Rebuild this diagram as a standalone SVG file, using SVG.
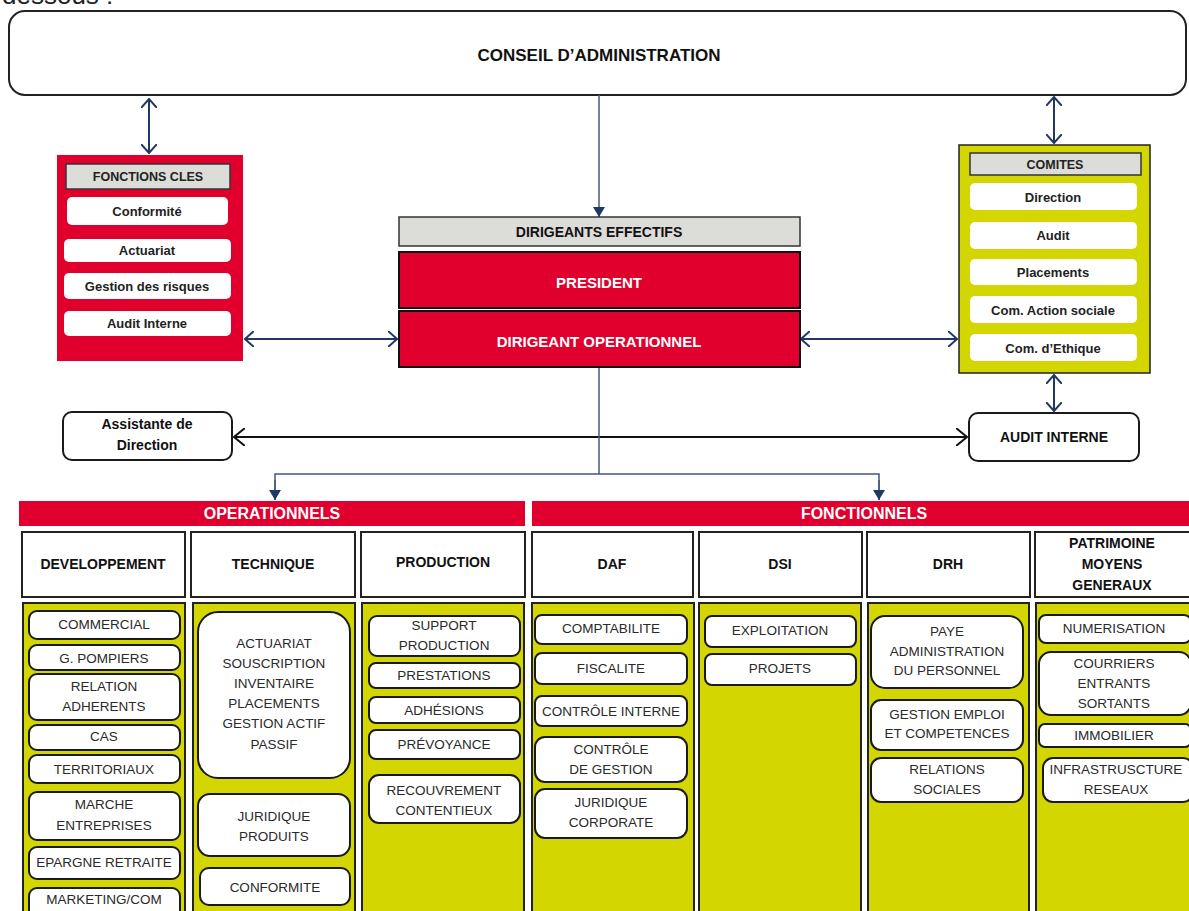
<svg xmlns="http://www.w3.org/2000/svg" width="1189" height="911" viewBox="0 0 1189 911">
<style>
text{font-family:"Liberation Sans",Arial,sans-serif;text-anchor:middle;fill:#222}
.b{font-weight:bold}
.hd{font-weight:bold;font-size:14px;fill:#111}
.fc{font-weight:bold;font-size:13px}
.w{fill:#fff;font-weight:bold;font-size:15px}
.it{font-size:13.5px;fill:#2a2a2a}
.red{fill:#E1002D}
.yel{fill:#D3D600;stroke:#222;stroke-width:2}
.gray{fill:#DCDCD8;stroke:#333;stroke-width:1.5}
.wb{fill:#fff;stroke:none}
.box{fill:#fff;stroke:#1a1a1a;stroke-width:2}
.col{fill:#fff;stroke:#222;stroke-width:2}
.nav{stroke:#1F3864;stroke-width:2;fill:none}
.thin{stroke:#44587E;stroke-width:1.5;fill:none}
</style>
<defs>
<marker id="chev" viewBox="0 0 10 16" refX="9" refY="8" markerWidth="10" markerHeight="16" markerUnits="userSpaceOnUse" orient="auto-start-reverse"><path d="M0,0 L9,8 L0,16" fill="none" stroke="#1F3864" stroke-width="2"/></marker>
<marker id="chevk" viewBox="0 0 12 18" refX="11" refY="9" markerWidth="12" markerHeight="18" markerUnits="userSpaceOnUse" orient="auto-start-reverse"><path d="M0,0 L11,9 L0,18" fill="none" stroke="#111" stroke-width="2"/></marker>
<marker id="tri" viewBox="0 0 10 12" refX="10" refY="6" markerWidth="10" markerHeight="12" markerUnits="userSpaceOnUse" orient="auto"><path d="M0,0 L10,6 L0,12 Z" fill="#1F3864"/></marker>
</defs>

<text x="2" y="4" style="font-size:26px;text-anchor:start;fill:#222">dessous :</text>

<g id="conseil">
<rect x="9" y="11" width="1177" height="84" rx="16" fill="#fff" stroke="#222" stroke-width="2"/>
<text x="599" y="61" class="b" style="font-size:17px;fill:#111">CONSEIL D’ADMINISTRATION</text>
</g>

<g id="connectors">
<line x1="149" y1="99" x2="149" y2="153" class="nav" marker-start="url(#chev)" marker-end="url(#chev)"/>
<line x1="1054" y1="97" x2="1054" y2="143" class="nav" marker-start="url(#chev)" marker-end="url(#chev)"/>
<line x1="599" y1="95" x2="599" y2="217" class="thin" marker-end="url(#tri)"/>
<line x1="245" y1="339" x2="397" y2="339" class="nav" marker-start="url(#chev)" marker-end="url(#chev)"/>
<line x1="801" y1="339" x2="957" y2="339" class="nav" marker-start="url(#chev)" marker-end="url(#chev)"/>
<line x1="1054" y1="375" x2="1054" y2="411" class="nav" marker-start="url(#chev)" marker-end="url(#chev)"/>
<line x1="234" y1="437" x2="967" y2="437" stroke="#111" stroke-width="2" marker-start="url(#chevk)" marker-end="url(#chevk)"/>
<polyline points="599,367 599,474" class="thin"/>
<polyline points="275,500 275,474 879,474 879,500" class="thin"/>
<line x1="275" y1="480" x2="275" y2="500" class="thin" marker-end="url(#tri)"/>
<line x1="879" y1="480" x2="879" y2="500" class="thin" marker-end="url(#tri)"/>
</g>

<g id="fonctions-cles">
<rect x="57" y="155" width="186" height="206" class="red"/>
<rect x="66" y="164" width="164" height="25" class="gray"/>
<text x="148" y="181" class="fc" style="font-size:12.5px">FONCTIONS CLES</text>
<rect x="67" y="197" width="161" height="28" rx="5" class="wb"/>
<text x="147" y="216" class="fc">Conformité</text>
<rect x="64" y="239" width="167" height="23" rx="5" class="wb"/>
<text x="147" y="255" class="fc">Actuariat</text>
<rect x="64" y="273" width="167" height="26" rx="5" class="wb"/>
<text x="147" y="291" class="fc">Gestion des risques</text>
<rect x="64" y="311" width="167" height="25" rx="5" class="wb"/>
<text x="147" y="328" class="fc">Audit Interne</text>
</g>

<g id="dirigeants">
<rect x="399" y="217" width="401" height="29" class="gray"/>
<text x="599" y="237" class="hd">DIRIGEANTS EFFECTIFS</text>
<rect x="399" y="252" width="401" height="56" class="red" stroke="#111" stroke-width="2"/>
<text x="599" y="288" class="w">PRESIDENT</text>
<rect x="399" y="311" width="401" height="56" class="red" stroke="#111" stroke-width="2"/>
<text x="599" y="347" class="w">DIRIGEANT OPERATIONNEL</text>
</g>

<g id="comites">
<rect x="959" y="145" width="191" height="228" class="yel" style="stroke-width:1.5"/>
<rect x="970" y="153" width="171" height="22" class="gray"/>
<text x="1055" y="169" class="fc" style="font-size:12.5px">COMITES</text>
<rect x="970" y="183" width="167" height="27" rx="5" class="wb"/>
<text x="1053" y="202" class="fc">Direction</text>
<rect x="970" y="222" width="167" height="27" rx="5" class="wb"/>
<text x="1053" y="240" class="fc">Audit</text>
<rect x="970" y="259" width="167" height="26" rx="5" class="wb"/>
<text x="1053" y="277" class="fc">Placements</text>
<rect x="970" y="296" width="167" height="27" rx="5" class="wb"/>
<text x="1053" y="315" class="fc">Com. Action  sociale</text>
<rect x="970" y="334" width="167" height="27" rx="5" class="wb"/>
<text x="1053" y="353" class="fc">Com. d’Ethique</text>
</g>

<g id="assistante">
<rect x="63" y="412" width="169" height="48" rx="9" class="box"/>
<text x="147" y="429" class="hd">Assistante de</text>
<text x="147" y="450" class="hd">Direction</text>
</g>

<g id="audit-interne">
<rect x="969" y="413" width="170" height="48" rx="9" class="box"/>
<text x="1054" y="442" class="hd">AUDIT INTERNE</text>
</g>

<g id="operationnels">
<rect x="19" y="501" width="506" height="25" class="red"/>
<text x="272" y="519" class="w" style="font-size:16px">OPERATIONNELS</text>
</g>
<g id="fonctionnels">
<rect x="532" y="501" width="660" height="25" class="red"/>
<text x="864" y="519" class="w" style="font-size:16px">FONCTIONNELS</text>
</g>

<g id="developpement">
<rect x="22" y="532" width="163" height="65" class="col"/>
<text x="103" y="569" class="hd">DEVELOPPEMENT</text>
<rect x="23" y="603" width="162" height="312" class="yel"/>
<rect x="29" y="611" width="151" height="28" rx="8" class="box"/><text x="104" y="629" class="it">COMMERCIAL</text>
<rect x="29" y="645" width="151" height="25" rx="8" class="box"/><text x="104" y="663" class="it">G. POMPIERS</text>
<rect x="29" y="674" width="151" height="46" rx="8" class="box"/><text x="104" y="691" class="it">RELATION</text><text x="104" y="711" class="it">ADHERENTS</text>
<rect x="29" y="725" width="151" height="25" rx="8" class="box"/><text x="104" y="741" class="it">CAS</text>
<rect x="29" y="755" width="151" height="28" rx="8" class="box"/><text x="104" y="774" class="it">TERRITORIAUX</text>
<rect x="29" y="792" width="151" height="48" rx="8" class="box"/><text x="104" y="809" class="it">MARCHE</text><text x="104" y="830" class="it">ENTREPRISES</text>
<rect x="29" y="847" width="151" height="32" rx="8" class="box"/><text x="104" y="867" class="it">EPARGNE RETRAITE</text>
<rect x="29" y="888" width="151" height="30" rx="8" class="box"/><text x="104" y="904" class="it">MARKETING/COM</text>
</g>

<g id="technique">
<rect x="191" y="532" width="164" height="65" class="col"/>
<text x="273" y="569" class="hd">TECHNIQUE</text>
<rect x="193" y="603" width="162" height="312" class="yel"/>
<rect x="198" y="612" width="152" height="166" rx="20" class="box"/>
<text x="274" y="648" class="it">ACTUARIAT</text>
<text x="274" y="668" class="it">SOUSCRIPTION</text>
<text x="274" y="688" class="it">INVENTAIRE</text>
<text x="274" y="708" class="it">PLACEMENTS</text>
<text x="274" y="728" class="it">GESTION ACTIF</text>
<text x="274" y="749" class="it">PASSIF</text>
<rect x="198" y="794" width="152" height="62" rx="12" class="box"/><text x="274" y="821" class="it">JURIDIQUE</text><text x="274" y="841" class="it">PRODUITS</text>
<rect x="200" y="868" width="150" height="37" rx="9" class="box"/><text x="275" y="892" class="it">CONFORMITE</text>
</g>

<g id="production">
<rect x="361" y="532" width="164" height="65" class="col"/>
<text x="443" y="567" class="hd">PRODUCTION</text>
<rect x="362" y="603" width="162" height="312" class="yel"/>
<rect x="369" y="616" width="151" height="40" rx="8" class="box"/><text x="444" y="630" class="it">SUPPORT</text><text x="444" y="650" class="it">PRODUCTION</text>
<rect x="369" y="663" width="151" height="25" rx="7" class="box"/><text x="444" y="680" class="it">PRESTATIONS</text>
<rect x="369" y="697" width="151" height="26" rx="7" class="box"/><text x="444" y="715" class="it">ADHÉSIONS</text>
<rect x="369" y="730" width="151" height="29" rx="7" class="box"/><text x="444" y="749" class="it">PRÉVOYANCE</text>
<rect x="369" y="775" width="151" height="48" rx="10" class="box"/><text x="444" y="795" class="it">RECOUVREMENT</text><text x="444" y="815" class="it">CONTENTIEUX</text>
</g>

<g id="daf">
<rect x="532" y="532" width="161" height="65" class="col"/>
<text x="612" y="569" class="hd">DAF</text>
<rect x="532" y="603" width="162" height="312" class="yel"/>
<rect x="535" y="615" width="152" height="29" rx="7" class="box"/><text x="611" y="633" class="it">COMPTABILITE</text>
<rect x="535" y="653" width="152" height="31" rx="7" class="box"/><text x="611" y="673" class="it">FISCALITE</text>
<rect x="535" y="696" width="152" height="30" rx="7" class="box"/><text x="611" y="716" class="it">CONTRÔLE INTERNE</text>
<rect x="535" y="737" width="152" height="45" rx="10" class="box"/><text x="611" y="754" class="it">CONTRÔLE</text><text x="611" y="774" class="it">DE GESTION</text>
<rect x="535" y="789" width="152" height="49" rx="10" class="box"/><text x="611" y="807" class="it">JURIDIQUE</text><text x="611" y="827" class="it">CORPORATE</text>
</g>

<g id="dsi">
<rect x="699" y="532" width="163" height="65" class="col"/>
<text x="780" y="569" class="hd">DSI</text>
<rect x="699" y="603" width="162" height="312" class="yel"/>
<rect x="705" y="616" width="151" height="31" rx="7" class="box"/><text x="780" y="635" class="it">EXPLOITATION</text>
<rect x="705" y="654" width="151" height="31" rx="7" class="box"/><text x="780" y="673" class="it">PROJETS</text>
</g>

<g id="drh">
<rect x="867" y="532" width="163" height="65" class="col"/>
<text x="948" y="569" class="hd">DRH</text>
<rect x="868" y="603" width="161" height="312" class="yel"/>
<rect x="871" y="616" width="152" height="72" rx="14" class="box"/><text x="947" y="636" class="it">PAYE</text><text x="947" y="656" class="it">ADMINISTRATION</text><text x="947" y="675" class="it">DU PERSONNEL</text>
<rect x="871" y="700" width="152" height="50" rx="10" class="box"/><text x="947" y="719" class="it">GESTION EMPLOI</text><text x="947" y="738" class="it">ET COMPETENCES</text>
<rect x="871" y="758" width="152" height="44" rx="10" class="box"/><text x="947" y="774" class="it">RELATIONS</text><text x="947" y="794" class="it">SOCIALES</text>
</g>

<g id="patrimoine">
<rect x="1035" y="532" width="160" height="65" class="col"/>
<text x="1112" y="548" class="hd">PATRIMOINE</text>
<text x="1112" y="569" class="hd">MOYENS</text>
<text x="1112" y="590" class="hd">GENERAUX</text>
<rect x="1036" y="603" width="160" height="312" class="yel"/>
<rect x="1039" y="615" width="152" height="28" rx="7" class="box"/><text x="1114" y="633" class="it">NUMERISATION</text>
<rect x="1039" y="652" width="152" height="63" rx="12" class="box"/><text x="1114" y="668" class="it">COURRIERS</text><text x="1114" y="688" class="it">ENTRANTS</text><text x="1114" y="708" class="it">SORTANTS</text>
<rect x="1039" y="724" width="152" height="23" rx="6" class="box"/><text x="1114" y="740" class="it">IMMOBILIER</text>
<rect x="1043" y="758" width="150" height="44" rx="10" class="box"/><text x="1116" y="774" class="it">INFRASTRUSCTURE</text><text x="1116" y="794" class="it">RESEAUX</text>
</g>
</svg>
